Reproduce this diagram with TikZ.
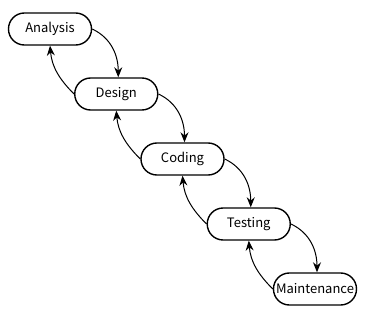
\documentclass[tikz,border=0pt]{standalone}
\usepackage{fontspec}
\setmainfont{Noto Sans CJK SC}
\usetikzlibrary{arrows.meta}

\begin{document}
\begin{tikzpicture}[x=1pt,y=-1pt,
  phase/.style={draw, rectangle, rounded corners=15.9pt, line width=1.4pt, minimum width=83pt,
    minimum height=32pt, inner xsep=1pt, font=\fontsize{13}{16}\selectfont},
  fwd/.style={-{Stealth[length=10pt,width=8pt]}, line width=1pt},
  back/.style={-{Stealth[length=10pt,width=8pt]}, line width=1pt}]

\useasboundingbox (0,0) rectangle (365,316);

% ===== phases, one step down-right each =====
\foreach \name/\txt [count=\i from 0] in {ana/Analysis,des/Design,cod/Coding,tst/Testing,mnt/Maintenance}
  \node[phase] (\name) at (50+66.25*\i, 29+65*\i) {\txt};

% ===== forward and return arrows =====
\foreach \a/\b in {ana/des,des/cod,cod/tst,tst/mnt}{
  \draw[fwd]  (\a.east) to[out=-25,in=90] ([xshift=2pt]\b.north);
  \draw[back] (\b.west) to[out=135,in=-85] (\a.south);
}

\end{tikzpicture}
\end{document}
